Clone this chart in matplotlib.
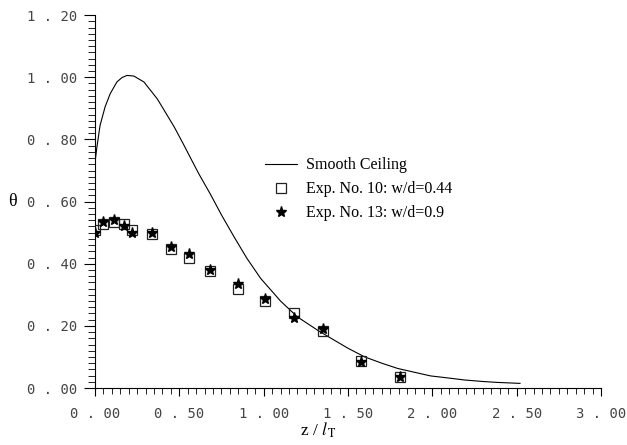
import numpy as np
import matplotlib
matplotlib.use("Agg")
import matplotlib.pyplot as plt
from matplotlib.ticker import MultipleLocator, FuncFormatter

# smooth ceiling curve
curve_x = [0.00, 0.01, 0.03, 0.06, 0.09, 0.13, 0.16, 0.19, 0.23, 0.29, 0.37, 0.47,
           0.525, 0.565, 0.615, 0.685, 0.75, 0.823, 0.90, 0.982, 1.10, 1.20, 1.32, 1.40,
           1.50, 1.60, 1.70, 1.795, 1.90, 1.99, 2.10, 2.19, 2.30, 2.39, 2.52]
curve_y = [0.725, 0.77, 0.845, 0.905, 0.947, 0.985, 0.999, 1.006, 1.004, 0.985, 0.93, 0.84,
           0.784, 0.742, 0.69, 0.623, 0.557, 0.488, 0.418, 0.353, 0.280, 0.229, 0.186, 0.16,
           0.128, 0.10, 0.08, 0.063, 0.05, 0.039, 0.032, 0.026, 0.021, 0.018, 0.015]

exp_x = [0.00, 0.05, 0.11, 0.17, 0.22, 0.34, 0.45, 0.56, 0.68, 0.85, 1.01, 1.18, 1.35, 1.58, 1.81]
exp10 = [0.508, 0.527, 0.533, 0.527, 0.510, 0.495, 0.447, 0.420, 0.376, 0.320, 0.280, 0.242, 0.183, 0.088, 0.034]
exp13 = [0.500, 0.535, 0.540, 0.520, 0.500, 0.500, 0.455, 0.430, 0.380, 0.335, 0.285, 0.225, 0.190, 0.083, 0.035]

plt.rcParams['mathtext.fontset'] = 'stix'

fig = plt.figure(figsize=(6.27, 4.45), dpi=100)
ax = fig.add_axes([0.1515, 0.128, 0.807, 0.838])

ax.plot(curve_x, curve_y, color='black', lw=0.8, label='Smooth Ceiling')
ax.plot(exp_x, exp10, ls='none', marker='s', ms=7.5, mfc='none', mec='#222222', mew=0.9,
        label='Exp. No. 10: w/d=0.44')
ax.plot(exp_x, exp13, ls='none', marker='*', ms=8, color='black',
        label='Exp. No. 13: w/d=0.9')

ax.set_xlim(0, 3.0)
ax.set_ylim(0, 1.2)
ax.spines['top'].set_visible(False)
ax.spines['right'].set_visible(False)
ax.xaxis.set_major_locator(MultipleLocator(0.5))
ax.xaxis.set_minor_locator(MultipleLocator(0.05))
ax.yaxis.set_major_locator(MultipleLocator(0.2))
ax.yaxis.set_minor_locator(MultipleLocator(0.02))


def tick_fmt(v, pos):
    s = f"{v:.2f}"
    return s[0] + " . " + s[2:]


ax.xaxis.set_major_formatter(FuncFormatter(tick_fmt))
ax.yaxis.set_major_formatter(FuncFormatter(tick_fmt))
ax.tick_params(axis='both', which='major', labelsize=10, labelcolor='#444444',
               labelfontfamily='DejaVu Sans Mono')
ax.tick_params(axis='y', which='major', length=8, pad=5)
ax.tick_params(axis='y', which='minor', length=5)
ax.tick_params(axis='x', which='major', length=6, pad=8)
ax.tick_params(axis='x', which='minor', length=4)

ax.set_ylabel('θ', fontfamily='Liberation Serif', fontsize=13, rotation=0,
              ha='center', va='center')
ax.yaxis.set_label_coords(-0.164, 0.501)
ax.set_xlabel(r'z / $\mathit{l}_{\,\mathrm{T}}$', fontfamily='Liberation Serif', fontsize=12.5)
ax.xaxis.set_label_coords(0.441, -0.086)

leg = ax.legend(loc='upper left', bbox_to_anchor=(0.32, 0.64), frameon=False,
                prop={'family': 'Liberation Serif', 'size': 11.5},
                handlelength=2.0, handletextpad=0.55, labelspacing=0.5, borderpad=0)

fig.savefig('out.png', dpi=100)
